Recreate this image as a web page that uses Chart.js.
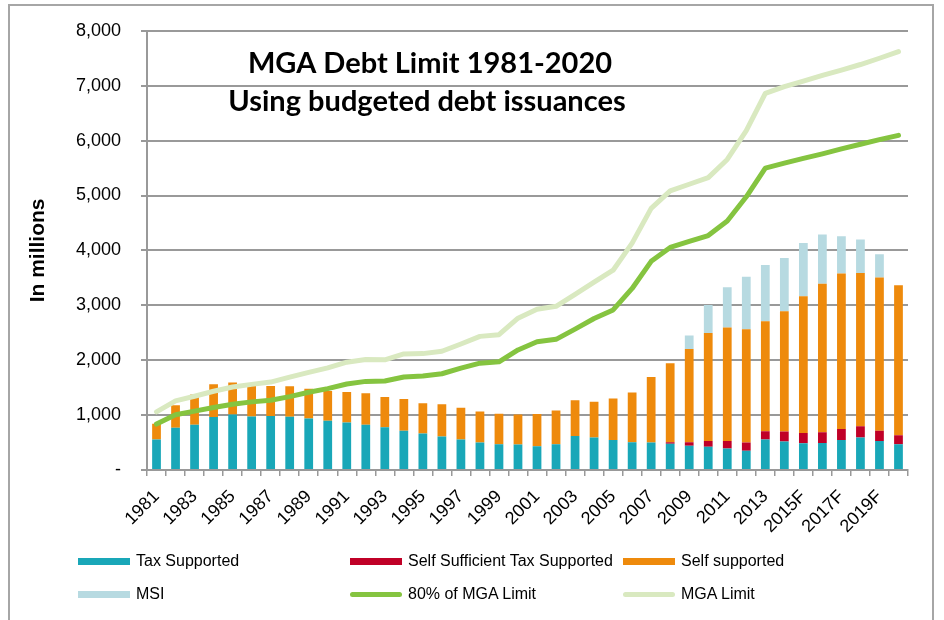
<!DOCTYPE html>
<html>
<head>
<meta charset="utf-8">
<script src="https://cdn.jsdelivr.net/npm/chart.js@4.4.1/dist/chart.umd.min.js"></script>
<style>
  html, body { margin: 0; padding: 0; background: #fff; }
  #wrap { position: relative; width: 944px; height: 620px; overflow: hidden; }
  #frame { position: absolute; left: 8px; top: 4px; width: 922px; height: 640px; border: 2px solid #a6a6a6; }
  #legend { position: absolute; left: 0; top: 0; font-family: "Liberation Sans", Arial, sans-serif; font-size: 16px; color: #000; }
  .item { position: absolute; height: 20px; line-height: 20px; white-space: nowrap; }
  .sw { position: absolute; left: 0; }
  .item span { position: absolute; }
</style>
</head>
<body>
<div id="wrap">
  <div id="frame"></div>
  <canvas id="myChart" width="944" height="620"></canvas>
  <div id="legend"></div>
</div>
<script>
// 年度（横軸）
const years = ['1981','1982','1983','1984','1985','1986','1987','1988','1989','1990',
  '1991','1992','1993','1994','1995','1996','1997','1998','1999','2000',
  '2001','2002','2003','2004','2005','2006','2007','2008','2009','2010',
  '2011','2012','2013','2014','2015F','2016F','2017F','2018F','2019F','2020F'];

// 棒グラフ（積み上げ）
const taxSupported = [555,771,825,964,1012,976,982,970,940,898,
  867,825,777,717,663,608,554,500,470,464,
  434,470,620,590,548,505,500,476,440,422,
  392,349,554,518,488,494,548,590,530,470];
const selfSufficient = [0,0,0,0,0,0,0,0,0,0,
  0,0,0,0,0,0,0,0,0,0,
  0,0,0,0,0,0,0,30,66,108,
  138,151,151,181,187,193,199,205,187,163];
const selfSupported = [288,410,548,596,584,608,548,554,542,542,
  555,573,554,578,554,591,579,566,554,548,
  584,614,651,651,753,908,1193,1440,1699,1964,
  2066,2066,2006,2193,2488,2705,2831,2795,2789,2734];
const msi = [0,0,0,0,0,0,0,0,0,0,
  0,0,0,0,0,0,0,0,0,0,
  0,0,0,0,0,0,0,0,247,512,
  735,952,1024,969,970,897,681,609,422,0];

// 折れ線
const limit80 = [837,1006,1072,1139,1199,1241,1271,1337,1416,1482,
  1566,1614,1620,1693,1711,1753,1855,1946,1970,2187,
  2337,2380,2566,2759,2916,3307,3801,4054,4163,4271,
  4536,4976,5500,5590,5675,5759,5849,5934,6018,6096];
const mgaLimit = [1060,1259,1343,1434,1512,1560,1602,1693,1777,1861,
  1964,2012,2006,2114,2120,2163,2295,2434,2464,2765,
  2928,2982,3199,3422,3639,4133,4765,5084,5205,5325,
  5657,6181,6861,6982,7084,7187,7283,7386,7500,7620];

const yTicks = [0,1000,2000,3000,4000,5000,6000,7000,8000];
const titleLines = ['MGA Debt Limit 1981-2020', 'Using budgeted debt issuances'];

const fontMain = '"Liberation Sans", Arial, sans-serif';
const gridGray = '#999999';

function bar(label, data, color) {
  return { type: 'bar', label: label, data: data, backgroundColor: color,
    stack: 'bars', order: 2, barPercentage: 0.46, categoryPercentage: 1.0 };
}
function line(label, data, color, stackId) {
  // 線は積み上げない（別スタック）
  return { type: 'line', label: label, data: data, borderColor: color, backgroundColor: color,
    stack: stackId, borderWidth: 5, pointRadius: 0, tension: 0, order: 1,
    borderCapStyle: 'round', borderJoinStyle: 'round' };
}

// グラフ内タイトル
const innerTitle = {
  id: 'innerTitle',
  afterDraw(chart) {
    const c = chart.ctx;
    c.save();
    c.fillStyle = '#000';
    c.font = 'bold 29px Lato, sans-serif';
    c.textAlign = 'center';
    c.textBaseline = 'middle';
    c.fillText(titleLines[0], 430, 64);
    c.fillText(titleLines[1], 427, 102);
    c.restore();
  }
};

var ctx = document.getElementById('myChart');
var myChart = new Chart(ctx, {
  data: {
    labels: years,
    datasets: [
      bar('Tax Supported', taxSupported, '#19a7b8'),
      bar('Self Sufficient Tax Supported', selfSufficient, '#c00027'),
      bar('Self supported', selfSupported, '#ee8a0c'),
      bar('MSI', msi, '#b7dae1'),
      line('80% of MGA Limit', limit80, '#85c440', 'l80'),
      line('MGA Limit', mgaLimit, '#d9e9c0', 'lmga')
    ]
  },
  options: {
    responsive: false,
    animation: false,
    layout: { padding: { left: 10, right: 36, top: 28, bottom: 80 } },
    plugins: { legend: { display: false }, tooltip: { enabled: false }, title: { display: false } },
    scales: {
      x: {
        stacked: true,
        offset: true,
        grid: { offset: true, drawOnChartArea: false, drawTicks: true, tickLength: 6, color: gridGray, lineWidth: 1.5 },
        border: { color: gridGray, width: 2 },
        ticks: {
          autoSkip: false, maxRotation: 45, minRotation: 45, padding: 10,
          color: '#000', font: { family: fontMain, size: 18 },
          callback: function(v, i) { return i % 2 === 0 ? years[i] : ''; }
        },
        afterFit: function(s) { s.height = 70; }
      },
      y: {
        stacked: true,
        min: 0, max: 8000,
        afterBuildTicks: function(s) { s.ticks = yTicks.map(v => ({ value: v })); },
        grid: { color: gridGray, lineWidth: 2, tickLength: 6 },
        border: { color: gridGray, width: 2 },
        ticks: {
          color: '#000', padding: 20, font: { family: fontMain, size: 18 },
          callback: function(v) { return v === 0 ? '-' : v.toLocaleString('en-US'); }
        },
        title: { display: true, text: 'In millions', color: '#000',
          font: { family: fontMain, size: 21, weight: 'bold' }, padding: { top: 16, bottom: 0 } },
        afterFit: function(s) { s.width = 137; }
      }
    }
  },
  plugins: [innerTitle]
});

// 凡例（3列×2行）
const legendPos = [
  { x: 78, y: 561 }, { x: 350, y: 561 }, { x: 623, y: 561 },
  { x: 78, y: 594 }, { x: 350, y: 594 }, { x: 623, y: 594 }
];
const lg = document.getElementById('legend');
myChart.data.datasets.forEach(function(ds, k) {
  const p = legendPos[k];
  const it = document.createElement('div');
  it.className = 'item';
  it.style.left = p.x + 'px';
  it.style.top = (p.y - 10) + 'px';
  const sw = document.createElement('div');
  sw.className = 'sw';
  sw.style.width = '52px';
  if (ds.type === 'line') {
    sw.style.height = '5px'; sw.style.top = '8px'; sw.style.borderRadius = '3px';
    sw.style.background = ds.borderColor;
  } else {
    sw.style.height = '7px'; sw.style.top = '7px';
    sw.style.background = ds.backgroundColor;
  }
  const tx = document.createElement('span');
  tx.style.left = '58px';
  tx.textContent = ds.label;
  it.appendChild(sw); it.appendChild(tx);
  lg.appendChild(it);
});
</script>
</body>
</html>
